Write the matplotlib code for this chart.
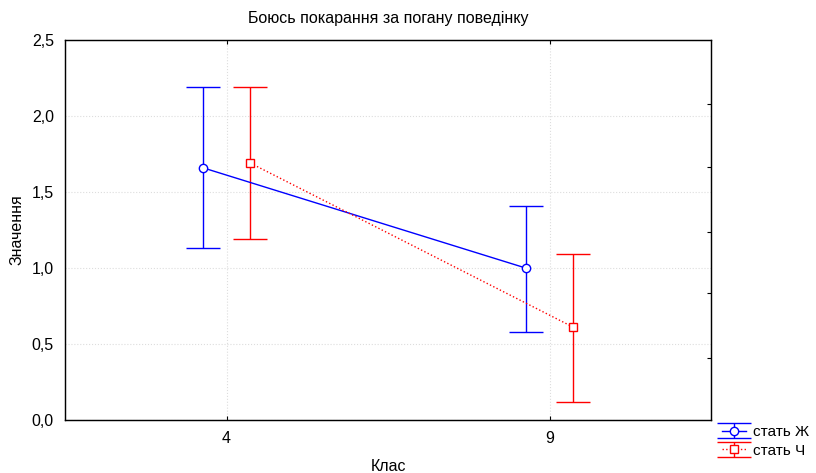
import numpy as np
import matplotlib
matplotlib.use("Agg")
import matplotlib.pyplot as plt

plt.rcParams['font.family'] = ['Liberation Sans', 'DejaVu Sans']

# data
classes = ['4', '9']
series = ['стать Ж', 'стать Ч']
means_f = [1.66, 1.00]
upper_f = [2.19, 1.41]
lower_f = [1.13, 0.58]
means_m = [1.69, 0.61]
upper_m = [2.19, 1.09]
lower_m = [1.19, 0.12]

fig = plt.figure(figsize=(8.16, 4.73), dpi=100)
ax = fig.add_axes([65/816, 1-420/473, 646/816, 380/473])

x = np.arange(len(classes))
off = 0.074

def draw(xs, m, lo, hi, color, marker, ls, label):
    m = np.array(m); lo = np.array(lo); hi = np.array(hi)
    ax.errorbar(xs, m, yerr=[m-lo, hi-m], color=color, ecolor=color,
                marker=marker, markersize=6, markerfacecolor='white',
                markeredgecolor=color, linestyle=ls, linewidth=1,
                elinewidth=1, capsize=12, capthick=1, label=label, zorder=3)

draw(x-off, means_f, lower_f, upper_f, '#0000ff', 'o', '-', series[0])
draw(x+off, means_m, lower_m, upper_m, '#ff0000', 's', ':', series[1])

ax.set_xlim(-0.5, 1.5)
ax.set_ylim(0, 2.5)
ax.set_xticks(x)
ax.set_xticklabels(classes)
ax.set_yticks(np.arange(0, 2.51, 0.5))
ax.set_yticklabels([f'{v:.1f}'.replace('.', ',') for v in np.arange(0, 2.51, 0.5)])
ax.tick_params(axis='x', labelsize=11.5, length=3, direction='in', top=True, pad=8)
ax.tick_params(axis='y', labelsize=11.5, length=0, pad=8)
ax.grid(True, color='#dddddd', linestyle=':', linewidth=0.8)
for s in ax.spines.values():
    s.set_color('#222222')
    s.set_linewidth(1)

# right-side ticks
ax2 = ax.twinx()
ax2.set_ylim(0, 2.5)
ax2.set_yticks([0.408, 0.836, 1.237, 1.664, 2.079])
ax2.set_yticklabels([])
ax2.tick_params(axis='y', direction='in', length=3)

ax.set_title('Боюсь покарання за погану поведінку', fontsize=11.5, pad=12)
ax.set_xlabel('Клас', fontsize=11.5, labelpad=9)
ax.set_ylabel('Значення', fontsize=11.5, labelpad=5)

ax.legend(loc='upper left', bbox_to_anchor=(722/816, 1-425/473),
          bbox_transform=fig.transFigure, frameon=False,
          fontsize=11, handlelength=1.6, borderpad=0, borderaxespad=0,
          labelspacing=0.3, handletextpad=0.4)

fig.savefig('out.png', dpi=100)
